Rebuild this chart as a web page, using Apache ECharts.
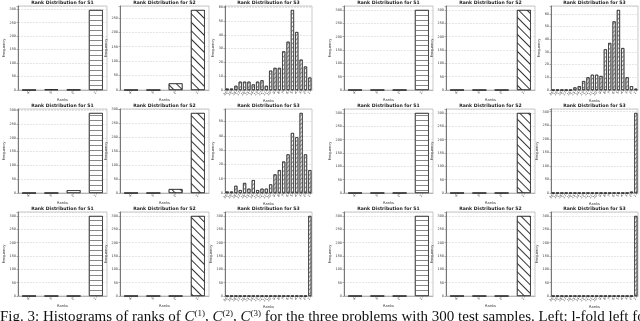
<!DOCTYPE html>
<html>
<head>
<meta charset="utf-8">
<script src="https://cdn.jsdelivr.net/npm/echarts@6/dist/echarts.min.js"></script>
<style>
html, body { margin: 0; padding: 0; background: #fff; }
#chart { width: 640px; height: 321px; }
</style>
</head>
<body>
<div id="chart"></div>
<script>
// rank categories
const ranksShort = ['4', '3', '2', '1'];
const ranksLong = ['20', '19', '18', '17', '16', '15', '14', '13', '12', '11',
                   '10', '9', '8', '7', '6', '5', '4', '3', '2', '1'];

// left block: one row per problem (rows of the figure)
const leftS1 = [
  [0, 2, 1, 297],
  [0, 0, 10, 290],
  [0, 0, 0, 300]
];
const leftS2 = [
  [0, 0, 23, 277],
  [0, 0, 14, 286],
  [0, 0, 0, 300]
];
const leftS3 = [
  [1, 1, 3, 6, 6, 6, 4, 6, 7, 3, 14, 16, 16, 28, 35, 58, 42, 22, 17, 9],
  [1, 1, 5, 2, 7, 3, 9, 2, 3, 3, 6, 13, 16, 22, 27, 42, 39, 56, 27, 16],
  [0, 0, 0, 0, 0, 0, 0, 0, 0, 0, 0, 0, 0, 0, 0, 0, 0, 0, 0, 300]
];

// right block
const rightS1 = [
  [0, 0, 0, 300],
  [0, 0, 0, 300],
  [0, 0, 0, 300]
];
const rightS2 = [
  [0, 0, 0, 300],
  [0, 0, 0, 300],
  [0, 0, 0, 300]
];
const rightS3 = [
  [0, 0, 0, 0, 0, 2, 3, 7, 10, 12, 12, 11, 32, 37, 54, 63, 33, 10, 3, 1],
  [0, 0, 0, 0, 0, 0, 0, 0, 0, 0, 0, 0, 0, 0, 0, 0, 0, 0, 5, 295],
  [0, 0, 0, 0, 0, 0, 0, 0, 0, 0, 0, 0, 0, 0, 0, 0, 0, 0, 0, 300]
];

const blocks = [leftS1, leftS2, leftS3, rightS1, rightS2, rightS3];

// panel geometry
const colLeft = [18, 120, 225, 344, 446, 551];
const colRight = [107, 209, 312, 433, 535, 638];
const rowTop = [6, 109, 212];
const rowBottom = [90, 193, 296];

const FONT = 'DejaVu Sans';

const hatches = [
  { symbol: 'rect', symbolSize: 1, dashArrayX: [1, 0], dashArrayY: [1, 4], color: '#888', rotation: 0 },
  { symbol: 'rect', symbolSize: 1, dashArrayX: [1, 0], dashArrayY: [1, 5], color: '#333', rotation: Math.PI / 4 },
  { symbol: 'rect', symbolSize: 1, dashArrayX: [1, 0], dashArrayY: [1, 2], color: '#888', rotation: -Math.PI / 4 }
];

const grids = [], xAxes = [], yAxes = [], series = [], titles = [];

for (let r = 0; r < 3; r++) {
  blocks.forEach((block, c) => {
    const s = c % 3;
    const data = block[r];
    const idx = grids.length;
    const cats = s === 2 ? ranksLong : ranksShort;
    const maxVal = Math.max(...data);
    const step = maxVal > 100 ? 50 : 10;

    grids.push({
      left: colLeft[c], top: rowTop[r],
      width: colRight[c] - colLeft[c], height: rowBottom[r] - rowTop[r],
      show: true, borderColor: '#bbb', borderWidth: 0.8, backgroundColor: '#fff'
    });
    titles.push({
      text: 'Rank Distribution for S' + (s + 1),
      left: (colLeft[c] + colRight[c]) / 2, top: rowTop[r] - 5.5,
      textAlign: 'center', padding: 0,
      textStyle: { fontFamily: FONT, fontSize: 4.6, fontWeight: 'bold', color: '#222' }
    });
    xAxes.push({
      type: 'category', gridIndex: idx, data: cats,
      name: 'Ranks', nameLocation: 'middle', nameGap: s === 2 ? 9 : 7,
      nameTextStyle: { fontFamily: FONT, fontSize: 3.6, color: '#333' },
      axisLine: { show: true, lineStyle: { color: '#aaa', width: 0.8 } },
      axisTick: { show: true, alignWithLabel: true, length: 1.5, lineStyle: { color: '#666', width: 0.5 } },
      axisLabel: { rotate: 45, fontFamily: FONT, fontSize: 3.4, color: '#333', margin: 2, interval: 0 }
    });
    yAxes.push({
      type: 'value', gridIndex: idx, min: 0,
      max: v => v.max * 1.05,
      interval: step,
      name: 'Frequency', nameLocation: 'middle', nameGap: step === 50 ? 10 : 8,
      nameTextStyle: { fontFamily: FONT, fontSize: 3.6, color: '#333' },
      axisLine: { show: true, lineStyle: { color: '#777', width: 1 } },
      axisTick: { show: true, length: 1.5, lineStyle: { color: '#666', width: 0.5 } },
      axisLabel: {
        fontFamily: FONT, fontSize: 3.4, color: '#333', margin: 2,
        formatter: v => (v % step === 0 ? String(v) : '')
      },
      splitLine: { show: true, lineStyle: { color: '#ccc', width: 0.5, type: 'dashed' } }
    });
    series.push({
      type: 'bar', xAxisIndex: idx, yAxisIndex: idx, data: data,
      barCategoryGap: s === 2 ? '30%' : '38%',
      silent: true,
      itemStyle: { color: '#fff', borderColor: '#222', borderWidth: 0.6, decal: hatches[s] }
    });
  });
}

titles.push({
  text: '{n|Fig. 3: Histograms of ranks of }{i|C}{s|(1)}{n|, }{i|C}{s|(2)}{n|, }{i|C}{s|(3)}' +
        '{n| for the three problems with 300 test samples. Left: l-fold left for the three and right block of}',
  left: 0, top: 309, padding: 0,
  textStyle: {
    fontWeight: 'normal',
    rich: {
      n: { fontFamily: 'Liberation Serif', fontSize: 15, fontWeight: 'normal', color: '#111', lineHeight: 16 },
      i: { fontFamily: 'Liberation Serif', fontSize: 15, fontWeight: 'normal', fontStyle: 'italic', color: '#111', lineHeight: 16 },
      s: { fontFamily: 'Liberation Serif', fontSize: 9, fontWeight: 'normal', color: '#111', verticalAlign: 'top', lineHeight: 16 }
    }
  }
});

const chart = echarts.init(document.getElementById('chart'), null, { renderer: 'canvas' });
chart.setOption({
  backgroundColor: '#fff',
  animation: false,
  title: titles,
  grid: grids,
  xAxis: xAxes,
  yAxis: yAxes,
  series: series
});
</script>
</body>
</html>
